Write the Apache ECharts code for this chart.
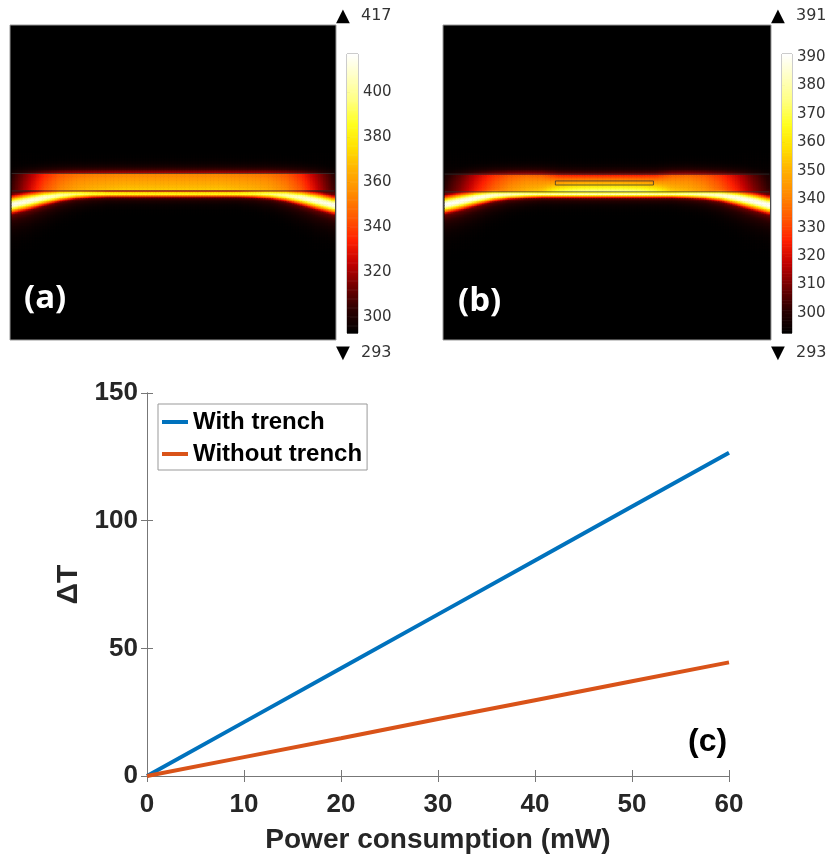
<!DOCTYPE html>
<html>
<head>
<meta charset="utf-8">
<script src="https://cdn.jsdelivr.net/npm/echarts@6/dist/echarts.min.js"></script>
<style>
html,body{margin:0;padding:0;background:#fff;}
#chart{width:830px;height:866px;}
</style>
</head>
<body>
<div id="chart"></div>
<script>
// ---------------- Line chart (c) data ----------------
const powerMW = [0, 10, 20, 30, 40, 50, 60];
const dTWithTrench = [0, 21.1, 42.2, 63.3, 84.4, 105.5, 126.6];
const dTWithoutTrench = [0, 7.4, 14.8, 22.3, 29.7, 37.1, 44.5];
const seriesNames = ['With trench', 'Without trench'];
const xTicks = [0, 10, 20, 30, 40, 50, 60];
const yTicks = [0, 50, 100, 150];

// ---------------- Temperature maps (K) ----------------
// sample positions across each map, % of map width
const fieldX = [0, 5, 10, 15, 20, 25, 30, 35, 40, 45, 50, 55, 60, 65, 70, 75, 80, 85, 90, 95, 100];
// (a) without trench
const bandYA = [57.1, 56.0, 54.9, 54.1, 53.7, 53.6, 53.6, 53.6, 53.6, 53.6, 53.6, 53.6, 53.6, 53.6, 53.6, 53.6, 53.7, 54.1, 54.9, 56.0, 57.3];
const bandTA = [414, 413, 410, 403, 395, 389, 386, 385, 385, 385, 385, 385, 385, 385, 386, 389, 395, 403, 410, 413, 414];
const bandWA = [2.5, 2.4, 2.1, 1.7, 1.35, 1.15, 1.0, 1.0, 1.0, 1.0, 1.0, 1.0, 1.0, 1.0, 1.0, 1.15, 1.35, 1.7, 2.1, 2.4, 2.5];
const slabUpA = [302, 318, 334, 344, 349, 351, 352, 353, 353, 353, 353, 353, 353, 353, 352, 351, 349, 344, 334, 318, 302];
const slabLoA = [306, 325, 344, 356, 364, 368, 370, 372, 372, 372, 372, 372, 372, 372, 370, 368, 364, 356, 344, 325, 306];
const layerA = [47.1, 52.7];          // heater layer top / bottom, % of map height
const colorTicksA = [300, 320, 340, 360, 380, 400];
const rangeA = [293, 417];
// (b) with trench
const bandYB = [57.1, 56.0, 54.9, 54.1, 53.8, 53.7, 53.7, 53.7, 53.7, 53.7, 53.7, 53.7, 53.7, 53.7, 53.7, 53.7, 53.8, 54.1, 54.9, 56.0, 57.3];
const bandTB = [391, 390, 389, 386, 383, 381, 380, 381, 382, 382, 382, 382, 382, 381, 380, 381, 383, 386, 389, 390, 391];
const bandWB = [2.5, 2.4, 2.1, 1.7, 1.35, 1.15, 1.0, 1.0, 1.0, 1.0, 1.0, 1.0, 1.0, 1.0, 1.0, 1.15, 1.35, 1.7, 2.1, 2.4, 2.5];
const slabUpB = [298, 307, 318, 327, 333, 336, 334, 324, 322, 322, 322, 322, 322, 324, 334, 336, 333, 327, 318, 307, 298];
const slabLoB = [302, 313, 326, 337, 346, 352, 356, 370, 376, 378, 378, 378, 376, 370, 356, 352, 346, 337, 326, 313, 302];
const layerB = [47.3, 53.0];
const trenchB = [34.1, 49.5, 64.3, 50.8]; // x0, y0, x1, y1 (% of map)
const colorTicksB = [300, 310, 320, 330, 340, 350, 360, 370, 380, 390];
const rangeB = [293, 391];

const thermal = ['#000000', '#2a0000', '#700000', '#c00000', '#ff2000', '#ff5a00', '#ff8a00',
                 '#ffb000', '#ffe000', '#ffff20', '#ffff80', '#ffffc0', '#ffffff'];

function interp(ys, x) {
  if (x <= fieldX[0]) return ys[0];
  for (let i = 1; i < fieldX.length; i++) {
    if (x <= fieldX[i]) {
      const t = (x - fieldX[i - 1]) / (fieldX[i] - fieldX[i - 1]);
      return ys[i - 1] + (ys[i] - ys[i - 1]) * t;
    }
  }
  return ys[ys.length - 1];
}
const STEP = 0.5;
function buildField(bandY, bandT, bandW, slabUp, slabLo, layer, base) {
  const cells = [];
  const top = layer[0], bot = layer[1];
  for (let cx = STEP / 2; cx < 100; cx += STEP) {
    const yc = interp(bandY, cx), Tb = interp(bandT, cx), w = interp(bandW, cx);
    const up = interp(slabUp, cx), lo = interp(slabLo, cx);
    for (let cy = 34 + STEP / 2; cy < 76; cy += STEP) {
      const d = cy - yc;
      const core = Math.exp(-(d / w) * (d / w));
      const tail = 0.45 * Math.exp(-Math.abs(d) / (1.3 * w));
      let T = base + (Tb - base) * Math.max(core, tail);
      let Ts;
      if (cy >= top && cy <= bot) Ts = up + (lo - up) * (cy - top) / (bot - top);
      else if (cy < top) Ts = base + (up - base) * 0.6 * Math.exp(-(top - cy) / 1.3);
      else Ts = base + (lo - base) * 0.5 * Math.exp(-(cy - bot) / 0.9);
      T = Math.max(T, Ts);
      cells.push([cx, cy, +T.toFixed(1)]);
    }
  }
  return cells;
}
const fieldA = buildField(bandYA, bandTA, bandWA, slabUpA, slabLoA, layerA, rangeA[0]);
const fieldB = buildField(bandYB, bandTB, bandWB, slabUpB, slabLoB, layerB, rangeB[0]);
function colorbarData(r) {
  const out = [];
  for (let v = r[0]; v < r[1]; v += 0.5) out.push([0.5, v + 0.25, v + 0.25]);
  return out;
}
const boundsA = [[0, layerA[0], 100, layerA[0]], [0, layerA[1], 100, layerA[1]]];
const boundsB = [[0, layerB[0], 100, layerB[0]], [0, layerB[1], 100, layerB[1]], trenchB];

// ---------------- render helpers ----------------
function cellRender(params, api) {
  const cx = api.value(0), cy = api.value(1);
  const p = api.coord([cx - STEP / 2, cy - STEP / 2]);
  const q = api.coord([cx + STEP / 2, cy + STEP / 2]);
  return {
    type: 'rect',
    shape: { x: Math.min(p[0], q[0]), y: Math.min(p[1], q[1]), width: Math.abs(q[0] - p[0]) + 0.6, height: Math.abs(q[1] - p[1]) + 0.6 },
    style: { fill: api.visual('color') }
  };
}
function barRender(params, api) {
  const v = api.value(1);
  const p = api.coord([0, v - 0.25]);
  const q = api.coord([1, v + 0.25]);
  return {
    type: 'rect',
    shape: { x: Math.min(p[0], q[0]), y: Math.min(p[1], q[1]), width: Math.abs(q[0] - p[0]), height: Math.abs(q[1] - p[1]) + 0.6 },
    style: { fill: api.visual('color') }
  };
}
function boundRender(params, api) {
  const p = api.coord([api.value(0), api.value(1)]);
  const q = api.coord([api.value(2), api.value(3)]);
  const stroke = 'rgba(50,50,50,0.75)';
  if (Math.abs(q[1] - p[1]) < 0.5) {
    return { type: 'line', shape: { x1: p[0], y1: p[1], x2: q[0], y2: q[1] }, style: { stroke: stroke, lineWidth: 1 } };
  }
  return { type: 'rect', shape: { x: Math.min(p[0], q[0]), y: Math.min(p[1], q[1]), width: Math.abs(q[0] - p[0]), height: Math.abs(q[1] - p[1]) },
           style: { fill: 'none', stroke: stroke, lineWidth: 1 } };
}

function mapX(gi) { return { gridIndex: gi, type: 'value', min: -0.5, max: 100.5, show: false }; }
function mapY(gi) { return { gridIndex: gi, type: 'value', min: -0.5, max: 100.5, inverse: true, show: false }; }
function barX(gi) { return { gridIndex: gi, type: 'value', min: 0, max: 1, show: false }; }
function barY(gi, r, ticks) {
  return {
    gridIndex: gi, type: 'value', min: r[0], max: r[1], position: 'right',
    axisLine: { show: false }, splitLine: { show: false },
    axisTick: { show: true, length: 3, customValues: ticks, lineStyle: { color: '#333' } },
    axisLabel: { customValues: ticks, margin: 5, color: '#333', fontSize: 15, fontFamily: 'DejaVu Sans' }
  };
}
const labelFont = { color: '#262626', fontWeight: 'bold', fontSize: 26, fontFamily: 'Liberation Sans, Arial' };
const axisGray = '#777';

const chart = echarts.init(document.getElementById('chart'), null, { renderer: 'canvas' });
chart.setOption({
  animation: false,
  backgroundColor: '#fff',
  grid: [
    { left: 10, top: 25, width: 326, height: 315, show: true, backgroundColor: '#000', borderColor: '#999', borderWidth: 1 },
    { left: 347, top: 54, width: 11, height: 279, show: true, backgroundColor: 'transparent', borderColor: '#999', borderWidth: 1 },
    { left: 443, top: 25, width: 328, height: 315, show: true, backgroundColor: '#000', borderColor: '#999', borderWidth: 1 },
    { left: 782, top: 54, width: 10, height: 279, show: true, backgroundColor: 'transparent', borderColor: '#999', borderWidth: 1 },
    { left: 147, top: 393, width: 582, height: 383 }
  ],
  xAxis: [
    mapX(0), barX(1), mapX(2), barX(3),
    { gridIndex: 4, type: 'value', min: 0, max: 60, interval: 10, position: 'bottom',
      axisLine: { show: true, lineStyle: { color: axisGray, width: 1 } },
      axisTick: { show: true, inside: true, length: 6, lineStyle: { color: axisGray } },
      splitLine: { show: false },
      axisLabel: Object.assign({ margin: 16, customValues: xTicks }, labelFont),
      name: 'Power consumption (mW)', nameLocation: 'middle', nameGap: 50,
      nameTextStyle: { color: '#262626', fontWeight: 'bold', fontSize: 28, fontFamily: 'Liberation Sans, Arial' } },
    { gridIndex: 4, type: 'value', min: 0, max: 60, interval: 10, position: 'top',
      axisLine: { show: true, lineStyle: { color: axisGray, width: 1 } },
      axisTick: { show: true, inside: true, length: 6, lineStyle: { color: axisGray } },
      splitLine: { show: false }, axisLabel: { show: false } }
  ],
  yAxis: [
    mapY(0), barY(1, rangeA, colorTicksA), mapY(2), barY(3, rangeB, colorTicksB),
    { gridIndex: 4, type: 'value', min: 0, max: 150, interval: 50, position: 'left',
      axisLine: { show: true, lineStyle: { color: axisGray, width: 1 } },
      axisTick: { show: true, inside: true, length: 6, lineStyle: { color: axisGray } },
      splitLine: { show: false },
      axisLabel: Object.assign({ margin: 9, customValues: yTicks }, labelFont),
      name: 'ΔT', nameLocation: 'middle', nameGap: 36, nameRotate: 90,
      nameTextStyle: { color: '#262626', fontWeight: 'bold', fontSize: 30, fontFamily: 'Liberation Sans, Arial' } },
    { gridIndex: 4, type: 'value', min: 0, max: 150, interval: 50, position: 'right',
      axisLine: { show: true, lineStyle: { color: axisGray, width: 1 } },
      axisTick: { show: true, inside: true, length: 6, lineStyle: { color: axisGray } },
      splitLine: { show: false }, axisLabel: { show: false } }
  ],
  visualMap: [
    { type: 'continuous', show: false, seriesIndex: [0, 2], dimension: 2, min: rangeA[0], max: rangeA[1], inRange: { color: thermal } },
    { type: 'continuous', show: false, seriesIndex: [3, 5], dimension: 2, min: rangeB[0], max: rangeB[1], inRange: { color: thermal } }
  ],
  legend: {
    data: seriesNames, orient: 'vertical', left: 158, top: 404,
    backgroundColor: '#fff', borderColor: '#999', borderWidth: 1, padding: [5, 5, 3, 4],
    itemGap: 6, itemWidth: 26, itemHeight: 4, icon: 'rect',
    textStyle: { color: '#000', fontWeight: 'bold', fontSize: 24, fontFamily: 'Liberation Sans, Arial', lineHeight: 26 }
  },
  series: [
    { type: 'custom', name: 'fieldA', xAxisIndex: 0, yAxisIndex: 0, data: fieldA, renderItem: cellRender, progressive: 0, clip: true, silent: true, encode: { x: 0, y: 1 } },
    { type: 'custom', name: 'boundsA', xAxisIndex: 0, yAxisIndex: 0, data: boundsA, renderItem: boundRender, clip: true, silent: true, z: 3, encode: { x: [0, 2], y: [1, 3] } },
    { type: 'custom', name: 'cbarA', xAxisIndex: 1, yAxisIndex: 1, data: colorbarData(rangeA), renderItem: barRender, progressive: 0, silent: true, encode: { x: 0, y: 1 } },
    { type: 'custom', name: 'fieldB', xAxisIndex: 2, yAxisIndex: 2, data: fieldB, renderItem: cellRender, progressive: 0, clip: true, silent: true, encode: { x: 0, y: 1 } },
    { type: 'custom', name: 'boundsB', xAxisIndex: 2, yAxisIndex: 2, data: boundsB, renderItem: boundRender, clip: true, silent: true, z: 3, encode: { x: [0, 2], y: [1, 3] } },
    { type: 'custom', name: 'cbarB', xAxisIndex: 3, yAxisIndex: 3, data: colorbarData(rangeB), renderItem: barRender, progressive: 0, silent: true, encode: { x: 0, y: 1 } },
    { type: 'line', name: seriesNames[0], xAxisIndex: 4, yAxisIndex: 4, data: powerMW.map((p, i) => [p, dTWithTrench[i]]),
      showSymbol: false, symbol: 'none', lineStyle: { width: 4, color: '#0072BD' }, itemStyle: { color: '#0072BD' }, z: 5 },
    { type: 'line', name: seriesNames[1], xAxisIndex: 4, yAxisIndex: 4, data: powerMW.map((p, i) => [p, dTWithoutTrench[i]]),
      showSymbol: false, symbol: 'none', lineStyle: { width: 4, color: '#D95319' }, itemStyle: { color: '#D95319' }, z: 5 }
  ],
  graphic: [
    { type: 'text', left: 24, top: 282, style: { text: '(a)', fill: '#fff', font: 'bold 33px "Open Sans"' } },
    { type: 'text', left: 458, top: 285, style: { text: '(b)', fill: '#fff', font: 'bold 33px "Open Sans"' } },
    { type: 'text', left: 688, top: 726, style: { text: '(c)', fill: '#000', font: 'bold 32px "Liberation Sans"' } },
    { type: 'text', left: 336, top: 7, style: { text: '▲', fill: '#000', font: '18px "DejaVu Sans"' } },
    { type: 'text', left: 361, top: 8, style: { text: String(rangeA[1]), fill: '#333', font: '16px "DejaVu Sans"' } },
    { type: 'text', left: 336, top: 344, style: { text: '▼', fill: '#000', font: '18px "DejaVu Sans"' } },
    { type: 'text', left: 361, top: 345, style: { text: String(rangeA[0]), fill: '#333', font: '16px "DejaVu Sans"' } },
    { type: 'text', left: 771, top: 7, style: { text: '▲', fill: '#000', font: '18px "DejaVu Sans"' } },
    { type: 'text', left: 796, top: 8, style: { text: String(rangeB[1]), fill: '#333', font: '16px "DejaVu Sans"' } },
    { type: 'text', left: 771, top: 344, style: { text: '▼', fill: '#000', font: '18px "DejaVu Sans"' } },
    { type: 'text', left: 796, top: 345, style: { text: String(rangeB[0]), fill: '#333', font: '16px "DejaVu Sans"' } }
  ]
});
</script>
</body>
</html>
